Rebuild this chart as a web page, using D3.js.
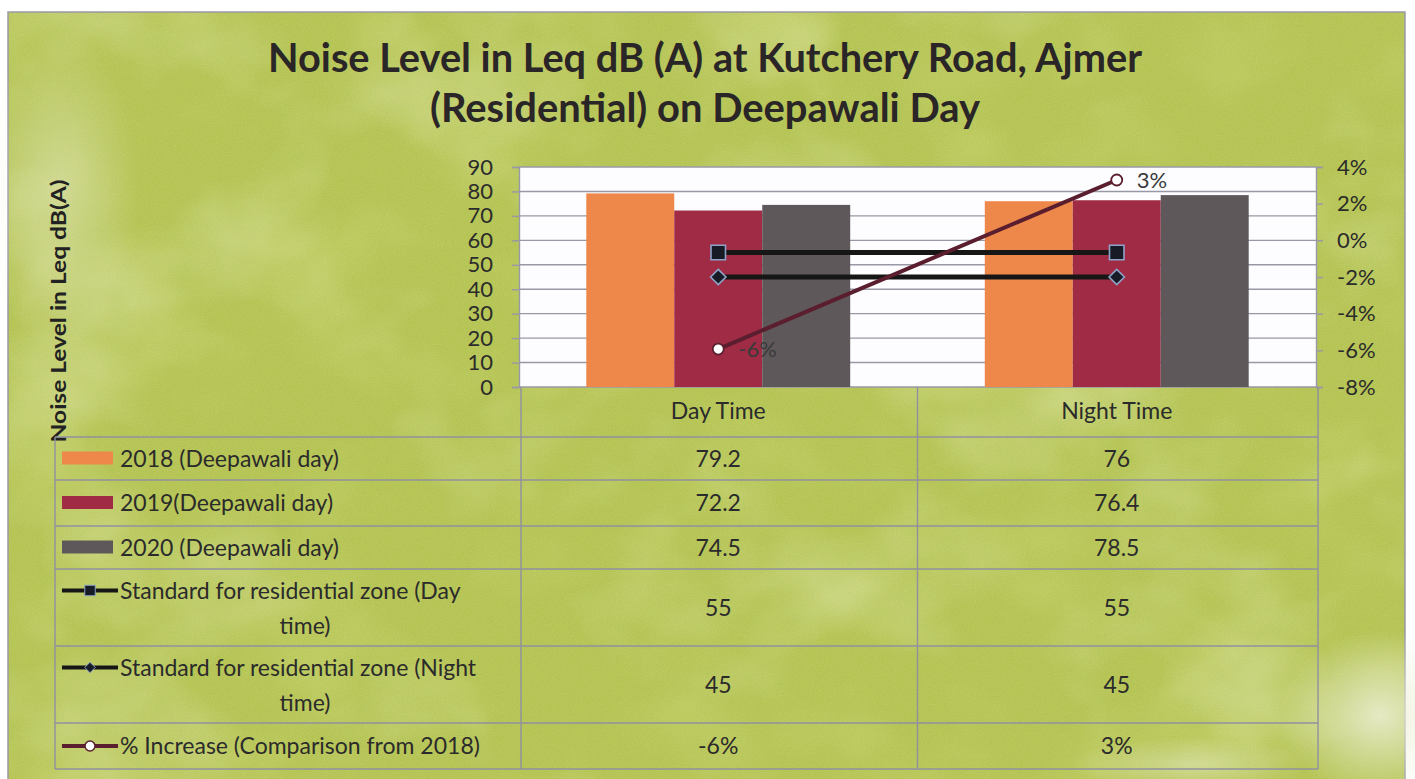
<!DOCTYPE html>
<html>
<head>
<meta charset="utf-8">
<script src="https://cdn.jsdelivr.net/npm/d3@7"></script>
<style>
  body { margin: 0; background: #fff; }
  svg { display: block; font-family: Lato, "Open Sans", sans-serif; }
  .axis text { fill: #2b2b2b; }
</style>
</head>
<body>
<div id="chart"></div>
<script>
// ---- data ----
const categories = ["Day Time", "Night Time"];
const barLabels = ["2018 (Deepawali day)", "2019(Deepawali day)", "2020 (Deepawali day)"];
const values2018 = [79.2, 76];
const values2019 = [72.2, 76.4];
const values2020 = [74.5, 78.5];
const stdDayLabel = ["Standard for residential zone (Day", "time)"];
const stdDay = [55, 55];
const stdNightLabel = ["Standard for residential zone (Night", "time)"];
const stdNight = [45, 45];
const pctLabel = ["% Increase (Comparison from 2018)"];
const pctIncrease = [-0.0593, 0.0329];
const leftTicks = [0, 10, 20, 30, 40, 50, 60, 70, 80, 90];
const rightTicks = [-0.08, -0.06, -0.04, -0.02, 0, 0.02, 0.04];

const W = 1415, H = 779;
const plot = { left: 519, right: 1316, top: 167, bottom: 387 };
const tableLeft = 55, tableRight = 1318;
const rowEdges = [437, 480, 526, 569, 646, 723, 769];
const gridColor = "#9898a6";
const textColor = "#2b2b2b";
const barColors = ["#ee874a", "#9f2b45", "#5e585a"];
const fs = 23; // table text size

const fmtLocale = d3.formatLocale({ decimal: ".", thousands: ",", grouping: [3], currency: ["", ""], minus: "-" });
const pct = fmtLocale.format(".0%");

const svg = d3.select("#chart").append("svg").attr("width", W).attr("height", H);
const defs = svg.append("defs");

// mottled paper texture for the background
const fLight = defs.append("filter").attr("id", "mottle").attr("x", 0).attr("y", 0).attr("width", 1).attr("height", 1);
fLight.append("feTurbulence").attr("type", "fractalNoise").attr("baseFrequency", "0.0045 0.006").attr("numOctaves", 4).attr("seed", 7);
fLight.append("feColorMatrix").attr("type", "matrix")
  .attr("values", "0 0 0 0 0.84  0 0 0 0 0.88  0 0 0 0 0.58  2.2 0 0 0 -1.1");
const fDark = defs.append("filter").attr("id", "mottleDark").attr("x", 0).attr("y", 0).attr("width", 1).attr("height", 1);
fDark.append("feTurbulence").attr("type", "fractalNoise").attr("baseFrequency", "0.008 0.01").attr("numOctaves", 3).attr("seed", 21);
fDark.append("feColorMatrix").attr("type", "matrix")
  .attr("values", "0 0 0 0 0.60  0 0 0 0 0.68  0 0 0 0 0.18  2.2 0 0 0 -1.05");
const fGrain = defs.append("filter").attr("id", "grain").attr("x", 0).attr("y", 0).attr("width", 1).attr("height", 1);
fGrain.append("feTurbulence").attr("type", "fractalNoise").attr("baseFrequency", 0.9).attr("numOctaves", 1).attr("seed", 2);
fGrain.append("feColorMatrix").attr("type", "matrix")
  .attr("values", "0 0 0 0 0.95  0 0 0 0 0.97  0 0 0 0 0.8  1.4 0 0 0 -0.55");

const glow = (id, c) => {
  const g = defs.append("radialGradient").attr("id", id);
  g.append("stop").attr("offset", "0%").attr("stop-color", c).attr("stop-opacity", 0.85);
  g.append("stop").attr("offset", "100%").attr("stop-color", c).attr("stop-opacity", 0);
};
glow("patch", "#eef0d8");

// frame
svg.append("rect").attr("x", 8).attr("y", 12).attr("width", 1397).attr("height", 790)
  .attr("fill", "#b4c352").attr("stroke", "#9a9aa8").attr("stroke-width", 1.5);
const bg = svg.append("g");
bg.append("rect").attr("x", 9).attr("y", 13).attr("width", 1395).attr("height", 766).attr("filter", "url(#mottleDark)").attr("opacity", 0.45);
bg.append("rect").attr("x", 9).attr("y", 13).attr("width", 1395).attr("height", 766).attr("filter", "url(#mottle)").attr("opacity", 0.5);
bg.append("rect").attr("x", 9).attr("y", 13).attr("width", 1395).attr("height", 766).attr("filter", "url(#grain)").attr("opacity", 0.22);
bg.append("ellipse").attr("cx", 60).attr("cy", 190).attr("rx", 80).attr("ry", 160).attr("fill", "url(#patch)").attr("opacity", 0.55);
bg.append("ellipse").attr("cx", 1380).attr("cy", 715).attr("rx", 100).attr("ry", 85).attr("fill", "url(#patch)");
bg.append("ellipse").attr("cx", 1190).attr("cy", 765).attr("rx", 120).attr("ry", 28).attr("fill", "url(#patch)").attr("opacity", 0.55);

// title
const title = svg.append("text").attr("text-anchor", "middle").attr("font-weight", 700)
  .attr("font-size", 40).attr("fill", "#2a2526");
title.append("tspan").attr("x", 705).attr("y", 72).attr("textLength", 874).attr("lengthAdjust", "spacingAndGlyphs")
  .text("Noise Level in Leq dB (A) at Kutchery Road, Ajmer");
title.append("tspan").attr("x", 705).attr("y", 122).attr("textLength", 550).attr("lengthAdjust", "spacingAndGlyphs")
  .text("(Residential) on Deepawali Day");

// scales
const x = d3.scaleBand().domain(categories).range([plot.left, plot.right]);
const xInner = d3.scaleBand().domain(barLabels).range([0, x.bandwidth()]).paddingInner(0).paddingOuter(0.765);
const y = d3.scaleLinear().domain([0, 90]).range([plot.bottom, plot.top]);
const yR = d3.scaleLinear().domain([-0.08, 0.04]).range([plot.bottom, plot.top]);

// plot area
svg.append("rect").attr("x", plot.left).attr("y", plot.top)
  .attr("width", plot.right - plot.left).attr("height", plot.bottom - plot.top).attr("fill", "#fdfdff");
svg.append("g").selectAll("line").data(leftTicks).join("line")
  .attr("x1", plot.left).attr("x2", plot.right)
  .attr("y1", d => y(d)).attr("y2", d => y(d))
  .attr("stroke", gridColor).attr("stroke-width", 1.4);

// bars
const barSets = [values2018, values2019, values2020];
const bars = svg.append("g");
barLabels.forEach((s, i) => {
  bars.selectAll(".bar" + i).data(barSets[i]).join("rect")
    .attr("class", "bar" + i)
    .attr("x", (d, j) => x(categories[j]) + xInner(s))
    .attr("width", xInner.bandwidth())
    .attr("y", d => y(d))
    .attr("height", d => y(0) - y(d))
    .attr("fill", barColors[i]);
});

// axes
const axL = svg.append("g").attr("class", "axis").attr("transform", `translate(${plot.left},0)`)
  .call(d3.axisLeft(y).tickValues(leftTicks).tickSize(7).tickPadding(19));
const axR = svg.append("g").attr("class", "axis").attr("transform", `translate(${plot.right},0)`)
  .call(d3.axisRight(yR).tickValues(rightTicks).tickFormat(pct).tickSize(7).tickPadding(14));
[axL, axR].forEach(a => {
  a.selectAll("path, line").attr("stroke", gridColor).attr("stroke-width", 1.4);
  a.selectAll("text").attr("font-family", "Lato").attr("fill", textColor);
});
axL.selectAll("text").attr("font-size", 22);
axR.selectAll("text").attr("font-size", 22);

// standard lines
const cx = c => x(c) + x.bandwidth() / 2;
const lineGen = (scale) => d3.line().x((d, i) => cx(categories[i])).y(d => scale(d));
svg.append("path").datum(stdDay).attr("d", lineGen(y)).attr("fill", "none").attr("stroke", "#161616").attr("stroke-width", 5);
svg.append("path").datum(stdNight).attr("d", lineGen(y)).attr("fill", "none").attr("stroke", "#161616").attr("stroke-width", 5);
svg.append("path").datum(pctIncrease).attr("d", lineGen(yR)).attr("fill", "none").attr("stroke", "#5a1e2e").attr("stroke-width", 4);

const squareSym = d3.symbol().type(d3.symbolSquare).size(210);
const diamondSym = d3.symbol().type(d3.symbolDiamond2).size(150);
svg.append("g").selectAll("path").data(stdDay).join("path")
  .attr("transform", (d, i) => `translate(${cx(categories[i])},${y(d)})`)
  .attr("d", squareSym).attr("fill", "#171b26").attr("stroke", "#8ea4c8").attr("stroke-width", 1.6);
svg.append("g").selectAll("path").data(stdNight).join("path")
  .attr("transform", (d, i) => `translate(${cx(categories[i])},${y(d)})`)
  .attr("d", diamondSym).attr("fill", "#171b26").attr("stroke", "#8ea4c8").attr("stroke-width", 1.6);
svg.append("g").selectAll("circle").data(pctIncrease).join("circle")
  .attr("cx", (d, i) => cx(categories[i])).attr("cy", d => yR(d)).attr("r", 5.5)
  .attr("fill", "#fff").attr("stroke", "#5a1e2e").attr("stroke-width", 1.8);
svg.append("g").selectAll("text").data(pctIncrease).join("text")
  .attr("x", (d, i) => cx(categories[i]) + 20).attr("y", d => yR(d) + 8)
  .attr("font-size", 22).attr("fill", "#3a3a3a").text(d => pct(d));

// y axis title
svg.append("text").attr("transform", "translate(66,311) rotate(-90)").attr("text-anchor", "middle")
  .attr("font-weight", 700).attr("font-size", 21).attr("fill", "#222")
  .attr("textLength", 263).attr("lengthAdjust", "spacingAndGlyphs")
  .text("Noise Level in Leq dB(A)");

// data table
const table = svg.append("g");
const tStroke = "#9090a0";
table.selectAll(".hline").data(rowEdges).join("line").attr("class", "hline")
  .attr("x1", tableLeft).attr("x2", tableRight).attr("y1", d => d).attr("y2", d => d)
  .attr("stroke", tStroke).attr("stroke-width", 1.4);
table.append("line").attr("x1", tableLeft).attr("x2", tableLeft).attr("y1", rowEdges[0]).attr("y2", rowEdges[6])
  .attr("stroke", tStroke).attr("stroke-width", 1.4);
table.selectAll(".vline").data([plot.left + 2, x("Night Time"), tableRight]).join("line").attr("class", "vline")
  .attr("x1", d => d).attr("x2", d => d).attr("y1", plot.bottom).attr("y2", rowEdges[6])
  .attr("stroke", tStroke).attr("stroke-width", 1.4);

table.selectAll(".cat").data(categories).join("text").attr("class", "cat")
  .attr("x", d => cx(d)).attr("y", 419).attr("text-anchor", "middle")
  .attr("font-size", fs).attr("fill", textColor).text(d => d);

const rows = [
  { lines: [barLabels[0]], vals: values2018, key: "bar", color: barColors[0] },
  { lines: [barLabels[1]], vals: values2019, key: "bar", color: barColors[1] },
  { lines: [barLabels[2]], vals: values2020, key: "bar", color: barColors[2] },
  { lines: stdDayLabel, vals: stdDay, key: "square" },
  { lines: stdNightLabel, vals: stdNight, key: "diamond" },
  { lines: pctLabel, vals: pctIncrease.map(pct), key: "circle" }
];
rows.forEach((r, i) => {
  const top = rowEdges[i], bot = rowEdges[i + 1], mid = (top + bot) / 2;
  const g = table.append("g");
  // legend key
  if (r.key === "bar") {
    g.append("rect").attr("x", 62).attr("y", mid - 7).attr("width", 51).attr("height", 13).attr("fill", r.color);
  } else {
    const ky = r.lines.length > 1 ? mid - 17 : mid;
    const stroke = r.key === "circle" ? "#5a1e2e" : "#161616";
    g.append("line").attr("x1", 62).attr("x2", 118).attr("y1", ky).attr("y2", ky).attr("stroke", stroke).attr("stroke-width", 4);
    if (r.key === "square") g.append("path").attr("transform", `translate(90,${ky})`).attr("d", d3.symbol().type(d3.symbolSquare).size(110)).attr("fill", "#171b26").attr("stroke", "#8ea4c8");
    if (r.key === "diamond") g.append("path").attr("transform", `translate(90,${ky})`).attr("d", d3.symbol().type(d3.symbolDiamond2).size(70)).attr("fill", "#171b26").attr("stroke", "#8ea4c8");
    if (r.key === "circle") g.append("circle").attr("cx", 90).attr("cy", ky).attr("r", 5).attr("fill", "#fff").attr("stroke", stroke).attr("stroke-width", 1.5);
  }
  // label
  if (r.lines.length === 1) {
    g.append("text").attr("x", 120).attr("y", mid + 8).attr("font-size", fs).attr("fill", textColor).text(r.lines[0]);
  } else {
    g.append("text").attr("x", 120).attr("y", mid - 9).attr("font-size", fs).attr("fill", textColor).text(r.lines[0]);
    g.append("text").attr("x", 305).attr("y", mid + 26).attr("text-anchor", "middle").attr("font-size", fs).attr("fill", textColor).text(r.lines[1]);
  }
  // values
  g.selectAll(".v").data(r.vals).join("text").attr("class", "v")
    .attr("x", (d, j) => cx(categories[j])).attr("y", mid + 8).attr("text-anchor", "middle")
    .attr("font-size", fs).attr("fill", textColor).text(d => d);
});
</script>
</body>
</html>
